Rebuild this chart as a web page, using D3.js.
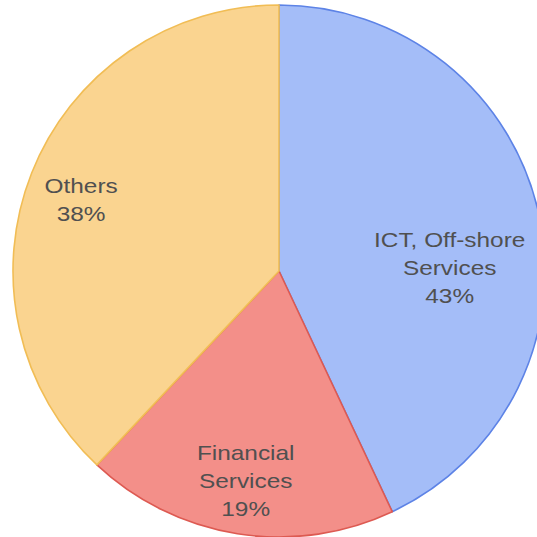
<!DOCTYPE html>
<html>
<head>
<meta charset="utf-8">
<script src="https://cdn.jsdelivr.net/npm/d3@7/dist/d3.min.js"></script>
<style>
  html, body { margin: 0; padding: 0; background: #ffffff; overflow: hidden; }
  svg { display: block; }
</style>
</head>
<body>
<svg id="chart" width="537" height="537"></svg>
<script>
// Sector share data
const categories = ["ICT, Off-shore Services", "Financial Services", "Others"];
const labelLines = [["ICT, Off-shore", "Services"], ["Financial", "Services"], ["Others"]];
const shares = [43, 19, 38];

const fills = ["#a4bdf8", "#f38f89", "#fad490"];
const strokes = ["#5d83e6", "#dd5a52", "#f1bd55"];

const width = 537, height = 537;
const cx = 279, cy = 271, radius = 266;

const svg = d3.select("#chart");
const g = svg.append("g").attr("transform", `translate(${cx},${cy})`);

const pie = d3.pie().sort(null).value(d => d.value);
const arcs = pie(categories.map((c, i) => ({ name: c, value: shares[i], i })));

const arc = d3.arc().innerRadius(0).outerRadius(radius);
const labelArc = d3.arc().innerRadius(radius * 0.8).outerRadius(radius * 0.8);

g.selectAll("path.slice")
  .data(arcs)
  .join("path")
  .attr("class", "slice")
  .attr("d", arc)
  .attr("fill", d => fills[d.data.i])
  .attr("stroke", d => strokes[d.data.i])
  .attr("stroke-width", 1.6)
  .attr("stroke-linejoin", "round");

// Labels sit near each slice's centroid; the wide ICT label is pulled inward to stay inside the disc.
const nudge = [[-37, 43], [0, 0], [0, 7]];
const lineH = 28;

const labels = g.selectAll("g.label")
  .data(arcs)
  .join("g")
  .attr("class", "label")
  .attr("transform", d => {
    const [x, y] = labelArc.centroid(d);
    const [nx, ny] = nudge[d.data.i];
    return `translate(${x + nx},${y + ny}) scale(1.22,1)`;
  });

labels.each(function(d) {
  const lines = labelLines[d.data.i].concat([Math.round(d.data.value) + "%"]);
  const t = d3.select(this).append("text")
    .attr("text-anchor", "middle")
    .attr("font-family", "'Liberation Sans', Arial, Helvetica, sans-serif")
    .attr("font-size", 20)
    .attr("fill", "#505050");
  const top = -((lines.length - 1) * lineH) / 2;
  lines.forEach((s, k) => {
    t.append("tspan")
      .attr("x", 0)
      .attr("y", top + k * lineH)
      .attr("dy", "0.35em")
      .text(s);
  });
});
</script>
</body>
</html>
